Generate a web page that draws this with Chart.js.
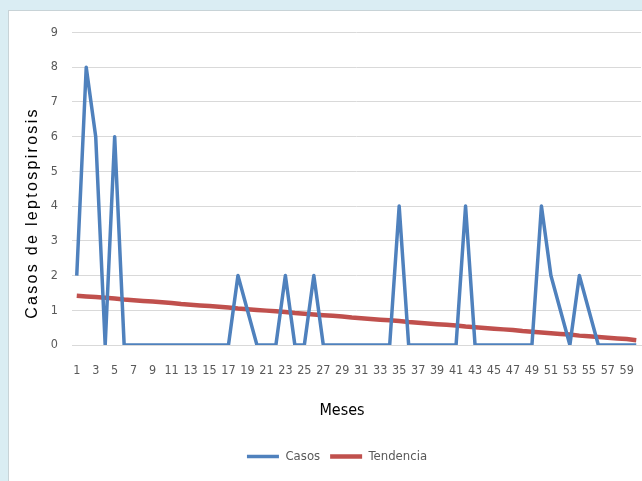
<!DOCTYPE html>
<html>
<head>
<meta charset="utf-8">
<script src="https://cdn.jsdelivr.net/npm/chart.js"></script>
<style>
  html, body { margin: 0; padding: 0; background: #daedf3; }
  #box {
    position: absolute; left: 8px; top: 10px; width: 634px; height: 471px;
    background: #fff; border-top: 1px solid #c8d3d7; border-left: 1px solid #c8d3d7;
    box-sizing: border-box;
  }
  canvas { display: block; }
</style>
</head>
<body>
<div id="box"><canvas id="myChart" width="633" height="470"></canvas></div>
<script>
  // months 1..60
  const meses = ['1','2','3','4','5','6','7','8','9','10','11','12','13','14','15','16','17','18','19','20',
    '21','22','23','24','25','26','27','28','29','30','31','32','33','34','35','36','37','38','39','40',
    '41','42','43','44','45','46','47','48','49','50','51','52','53','54','55','56','57','58','59','60'];

  const casos = [2, 8, 6, 0, 6, 0, 0, 0, 0, 0,
    0, 0, 0, 0, 0, 0, 0, 2, 1, 0,
    0, 0, 2, 0, 0, 2, 0, 0, 0, 0,
    0, 0, 0, 0, 4, 0, 0, 0, 0, 0,
    0, 4, 0, 0, 0, 0, 0, 0, 0, 4,
    2, 1, 0, 2, 1, 0, 0, 0, 0, 0];

  const tendencia = [1.42, 1.40, 1.38, 1.36, 1.34, 1.31, 1.29, 1.27, 1.25, 1.23,
    1.21, 1.18, 1.16, 1.14, 1.12, 1.10, 1.08, 1.05, 1.03, 1.01,
    0.99, 0.97, 0.95, 0.92, 0.90, 0.88, 0.86, 0.84, 0.82, 0.79,
    0.77, 0.75, 0.73, 0.71, 0.69, 0.66, 0.64, 0.62, 0.60, 0.58,
    0.56, 0.53, 0.51, 0.49, 0.47, 0.45, 0.43, 0.40, 0.38, 0.36,
    0.34, 0.32, 0.30, 0.27, 0.25, 0.23, 0.21, 0.19, 0.17, 0.14];

  const narrow = '"Liberation Sans Narrow", "DejaVu Sans Condensed", sans-serif';

  // axis titles drawn by hand so they sit where the original has them
  const axisTitles = {
    id: 'axisTitles',
    afterDraw(chart) {
      const ctx = chart.ctx;
      ctx.save();
      ctx.fillStyle = '#000';
      ctx.textAlign = 'center';
      ctx.textBaseline = 'middle';
      ctx.font = '16px "Liberation Sans", Arial, sans-serif';
      ctx.letterSpacing = '2.3px';
      ctx.translate(24, 202);
      ctx.rotate(-Math.PI / 2);
      ctx.fillText('Casos de leptospirosis', 0, 0);
      ctx.restore();

      ctx.save();
      ctx.fillStyle = '#000';
      ctx.textAlign = 'center';
      ctx.textBaseline = 'middle';
      ctx.font = '16px ' + narrow;
      ctx.fillText('Meses', 333, 400);
      ctx.restore();
    }
  };

  const ctx = document.getElementById('myChart').getContext('2d');
  const chart = new Chart(ctx, {
    type: 'line',
    data: {
      labels: meses,
      datasets: [{
        label: 'Casos',
        data: casos,
        borderColor: '#4f81bd',
        backgroundColor: '#4f81bd',
        borderWidth: 3.5,
        borderJoinStyle: 'round',
        pointRadius: 0,
        tension: 0
      }, {
        label: 'Tendencia',
        data: tendencia,
        borderColor: '#c0504d',
        backgroundColor: '#c0504d',
        borderWidth: 4.5,
        pointRadius: 0,
        tension: 0
      }]
    },
    options: {
      responsive: false,
      animation: false,
      layout: { padding: { left: 24, right: 1, top: 21, bottom: 8 } },
      plugins: {
        tooltip: { enabled: false },
        legend: {
          position: 'bottom',
          labels: {
            usePointStyle: true,
            pointStyle: 'line',
            pointStyleWidth: 32,
            color: '#595959',
            font: { family: narrow, size: 13 },
            padding: 10
          }
        }
      },
      scales: {
        x: {
          offset: true,
          grid: { display: false, drawTicks: false },
          border: { color: '#d9d9d9' },
          ticks: {
            autoSkip: false,
            maxRotation: 0,
            minRotation: 0,
            padding: 18,
            color: '#595959',
            font: { family: narrow, size: 12.5 },
            callback: function (val, idx) {
              return idx % 2 === 0 ? this.getLabelForValue(val) : '';
            }
          },
          afterFit: (scale) => {
            scale.height = 95;
            scale.paddingLeft = 0;
            scale.paddingRight = 0;
          }
        },
        y: {
          min: 0,
          max: 9,
          grid: { color: '#d9d9d9', drawTicks: false },
          border: { display: false },
          ticks: {
            stepSize: 1,
            padding: 14,
            color: '#595959',
            font: { family: narrow, size: 12.5 }
          },
          afterFit: (scale) => { scale.width = 39; }
        }
      }
    },
    plugins: [axisTitles]
  });
</script>
</body>
</html>
